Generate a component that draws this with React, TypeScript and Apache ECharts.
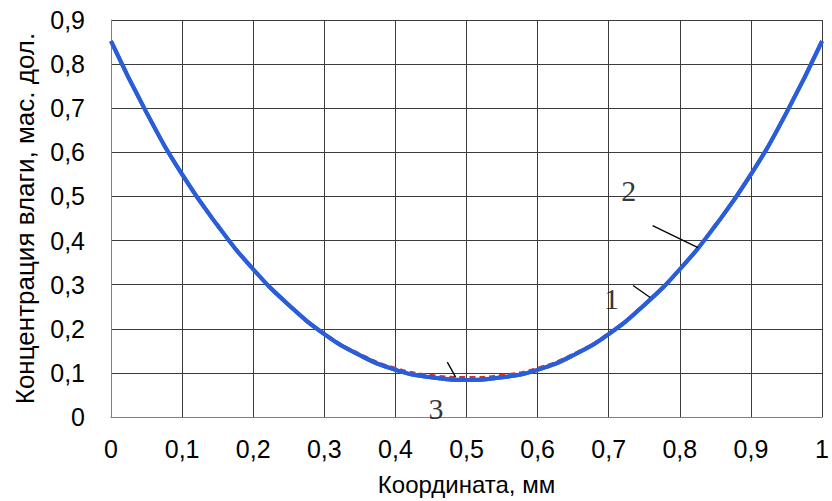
import React, { useEffect, useRef } from "react";
import * as echarts from "echarts";

const xValues = [0, 0.05, 0.1, 0.15, 0.2, 0.25, 0.3, 0.35, 0.4, 0.45, 0.5, 0.55, 0.6, 0.65, 0.7, 0.75, 0.8, 0.85, 0.9, 0.95, 1];
const curve1 = [0.852, 0.69, 0.55, 0.434, 0.335, 0.254, 0.188, 0.14, 0.107, 0.09, 0.084, 0.09, 0.107, 0.14, 0.188, 0.254, 0.335, 0.434, 0.55, 0.69, 0.852];
const curve2 = [0.852, 0.69, 0.55, 0.434, 0.335, 0.254, 0.188, 0.14, 0.107, 0.09, 0.084, 0.09, 0.107, 0.14, 0.188, 0.254, 0.335, 0.434, 0.55, 0.69, 0.852];
const curve3 = [0.852, 0.69, 0.55, 0.434, 0.335, 0.255, 0.19, 0.143, 0.111, 0.095, 0.09, 0.095, 0.111, 0.143, 0.19, 0.255, 0.335, 0.434, 0.55, 0.69, 0.852];

const curveLabels = [
  [0.704, 0.269, "1"],
  [0.728, 0.514, "2"],
  [0.457, 0.019, "3"],
];
const leaderLines = [
  [[0.7342, 0.298], [0.7583, 0.271]],
  [[0.7617, 0.4337], [0.8255, 0.384]],
  [[0.473, 0.1244], [0.4847, 0.0905]],
];

const xTitle = "Координата, мм";
const yTitle = "Концентрация влаги, мас. дол.";

const fmt = (v: number) => (Math.abs(v - Math.round(v)) < 1e-9 ? String(Math.round(v)) : v.toFixed(1).replace(".", ","));

export default function App() {
  const ref = useRef<HTMLDivElement>(null);
  useEffect(() => {
    document.body.style.margin = "0";
    const chart = echarts.init(ref.current!, null, { renderer: "svg" });
    const pair = (ys: number[]) => xValues.map((x, i) => [x, ys[i]]);
    const font = "'Liberation Sans', Arial, sans-serif";
    chart.setOption({
      animation: false,
      backgroundColor: "#ffffff",
      grid: { left: 111, right: 2, top: 20, bottom: 82 },
      xAxis: {
        type: "value",
        min: 0,
        max: 1,
        interval: 0.1,
        name: xTitle,
        nameLocation: "middle",
        nameGap: 55,
        nameTextStyle: { fontFamily: font, fontSize: 24, color: "#000" },
        axisLine: { show: true, lineStyle: { color: "#808080", width: 1 } },
        axisTick: { show: false },
        axisLabel: { formatter: fmt, fontFamily: font, fontSize: 25, color: "#000", margin: 19 },
        splitLine: { show: true, lineStyle: { color: "#3c3c3c", width: 1 } },
      },
      yAxis: {
        type: "value",
        min: 0,
        max: 0.9,
        interval: 0.1,
        name: yTitle,
        nameLocation: "middle",
        nameGap: 73,
        nameTextStyle: { fontFamily: font, fontSize: 26, color: "#000" },
        axisLine: { show: true, lineStyle: { color: "#808080", width: 1 } },
        axisTick: { show: false },
        axisLabel: { formatter: fmt, fontFamily: font, fontSize: 25, color: "#000", margin: 26 },
        splitLine: { show: true, lineStyle: { color: "#3c3c3c", width: 1 } },
      },
      series: [
        {
          name: "3",
          type: "line",
          smooth: true,
          symbol: "none",
          data: pair(curve3),
          lineStyle: { color: "#d8302e", width: 2.5, type: [6, 4] },
          z: 2,
        },
        {
          name: "2",
          type: "line",
          smooth: true,
          symbol: "none",
          data: pair(curve2),
          lineStyle: { color: "#2a5dd9", width: 4 },
          z: 3,
        },
        {
          name: "1",
          type: "line",
          smooth: true,
          symbol: "none",
          data: pair(curve1),
          lineStyle: { color: "#2a5dd9", width: 4 },
          z: 4,
          markLine: {
            silent: true,
            symbol: ["none", "none"],
            label: { show: false },
            lineStyle: { color: "#000", width: 1.3, type: "solid" },
            data: leaderLines.map((l) => [{ coord: l[0] }, { coord: l[1] }]),
          },
        },
        {
          type: "scatter",
          symbolSize: 0,
          silent: true,
          data: curveLabels,
          z: 5,
          label: {
            show: true,
            position: "inside",
            formatter: (p: any) => p.data[2],
            fontFamily: "'Liberation Serif', 'Times New Roman', serif",
            fontSize: 30,
            color: "#000",
          },
        },
      ],
    });
    return () => chart.dispose();
  }, []);
  return <div ref={ref} style={{ width: 832, height: 501 }} />;
}
